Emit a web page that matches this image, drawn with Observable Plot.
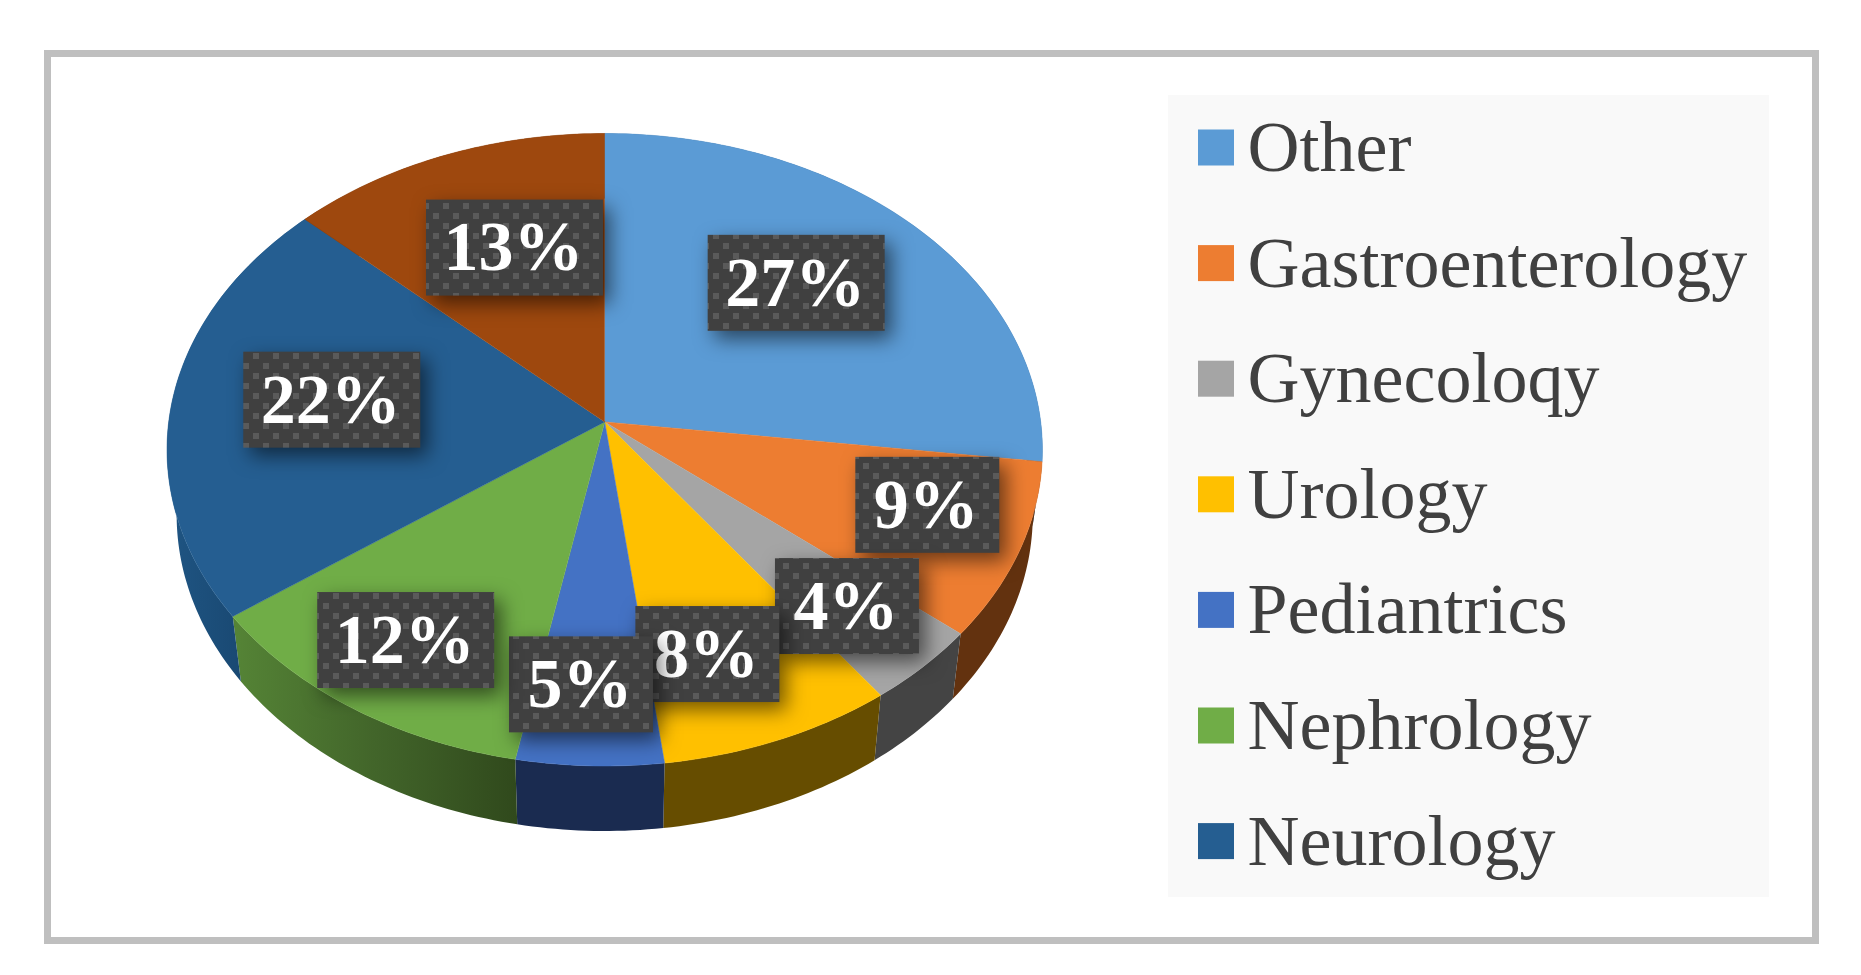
<!DOCTYPE html>
<html>
<head>
<meta charset="utf-8">
<script src="https://cdn.jsdelivr.net/npm/d3@7"></script>
<script src="https://cdn.jsdelivr.net/npm/@observablehq/plot@0.6"></script>
<style>
html,body{margin:0;padding:0;background:#fff;overflow:hidden}
svg{display:block;filter:blur(0.6px)}
</style>
</head>
<body>
<div id="chart"></div>
<script>
// --- data ---
const categories = ["Other","Gastroenterology","Gynecoloqy","Urology","Pediantrics","Nephrology","Neurology","(no legend entry)"];
const values = [27,9,4,8,5,12,22,13];
const legendCount = 7;

// --- styling and layout, kept apart from the data ---
const topColors = ["#5B9BD5","#ED7D31","#A5A5A5","#FFC000","#4472C4","#70AD47","#255E91","#9E480E"];
const wallColors = ["#2f5f8d","#63320f","#444444","#664d00","#1a2b50","url(#nephroWall)","url(#neuroWall)","#5e2b08"];
const labelNudgeX = [-28,36,24,-16,-13,-26,31,25];
const labelNudgeY = [1,-6,17,16,29,23,-8,17];
const serif = "'Liberation Serif','Times New Roman',serif";

// pie geometry: tilted disc in perspective
const cx = 604.2, cy = 421.4, Rx = 436, Ry = 313.8, persp = 0.088, depth = 65, bottomShrink = 0.978;
const project = (theta, f = 1) => {
  const w = 1 + persp * f * Math.cos(theta);
  return [f * Rx * Math.sin(theta) / w, -f * Ry * Math.cos(theta) / w];
};

let cum = 0;
const slices = categories.map((category, i) => {
  const a0 = cum / 100 * 2 * Math.PI;
  cum += values[i];
  const a1 = cum / 100 * 2 * Math.PI;
  return {category, value: values[i], a0, a1, i};
});
const arcAngles = s => {
  const n = Math.max(2, Math.ceil((s.a1 - s.a0) / (Math.PI / 180)));
  return d3.range(n + 1).map(k => s.a0 + (s.a1 - s.a0) * k / n);
};

const facePoints = slices.flatMap(s => [
  {key: s.i, category: s.category, x: cx, y: cy},
  ...arcAngles(s).map(t => {
    const [X, Y] = project(t);
    return {key: s.i, category: s.category, x: cx + X, y: cy + Y};
  })
]);
const wallPoints = slices.flatMap(s => {
  const ang = arcAngles(s);
  const upper = ang.map(t => {
    const [X, Y] = project(t);
    return {key: s.i, wall: wallColors[s.i], x: cx + X, y: cy + Y};
  });
  const lower = ang.slice().reverse().map(t => {
    const [X, Y] = project(t);
    return {key: s.i, wall: wallColors[s.i], x: cx + X * bottomShrink, y: cy + Y + depth};
  });
  return [...upper, ...lower];
});

const labels = slices.map(s => {
  const [X, Y] = project((s.a0 + s.a1) / 2, 0.7);
  const text = s.value + "%";
  const w = s.value >= 10 ? 177 : 144, h = 96;
  const x = cx + X + labelNudgeX[s.i], y = cy + Y + labelNudgeY[s.i];
  return {text, x, y, tx: x - 1.5, x1: x - w / 2, x2: x + w / 2, y1: y - h / 2, y2: y + h / 2};
});

const legendRows = slices.slice(0, legendCount).map((s, i) => {
  const y = 147.5 + i * 115.6;
  return {category: s.category, y, ty: y, y1: y - 18, y2: y + 18, x1: 1198, x2: 1234, tx: 1247};
});

const labelMarks = labels.flatMap(l => [
  Plot.rect([l], {x1: "x1", x2: "x2", y1: "y1", y2: "y2", fill: "url(#dots)",
    imageFilter: "drop-shadow(7px 8px 10px rgba(0,0,0,.55))"}),
  Plot.text([l], {x: "tx", y: "y", text: "text", fill: "#ffffff", fontFamily: serif,
    fontWeight: "bold", fontSize: 70, textAnchor: "middle", lineAnchor: "middle"})
]);

const plot = Plot.plot({
  width: 1861, height: 975, margin: 0,
  x: {domain: [0, 1861], range: [0, 1861], axis: null},
  y: {domain: [0, 975], range: [0, 975], axis: null},
  color: {type: "ordinal", domain: categories, range: topColors},
  marks: [
    Plot.rect([{x1: 47.5, x2: 1815.5, y1: 53.5, y2: 940.5}], {x1: "x1", x2: "x2", y1: "y1", y2: "y2",
      fill: "#ffffff", stroke: "#bfbfbf", strokeWidth: 7}),
    Plot.rect([{x1: 1168, x2: 1769, y1: 95, y2: 897}], {x1: "x1", x2: "x2", y1: "y1", y2: "y2", fill: "#f9f9f9"}),
    Plot.line(wallPoints, {x: "x", y: "y", z: "key", curve: "linear",
      fill: {value: d => d.wall, scale: null}, stroke: "none"}),
    Plot.line(facePoints, {x: "x", y: "y", z: "key", curve: "linear",
      fill: "category", stroke: "category", strokeWidth: 0.5}),
    ...labelMarks,
    Plot.rect(legendRows, {x1: "x1", x2: "x2", y1: "y1", y2: "y2", fill: "category"}),
    Plot.text(legendRows, {x: "tx", y: "ty", text: "category", fill: "#404040", fontFamily: serif,
      fontSize: 72, textAnchor: "start", lineAnchor: "middle"})
  ]
});

plot.style.background = "#fff";
d3.select(plot).insert("defs", ":first-child").html(`
  <pattern id="dots" width="20" height="20" patternUnits="userSpaceOnUse">
    <rect width="20" height="20" fill="#404040"/>
    <rect x="3" y="3" width="6" height="6" fill="#5a5a5a"/>
    <rect x="13" y="13" width="6" height="6" fill="#5a5a5a"/>
  </pattern>
  <linearGradient id="nephroWall" x1="0" x2="1" y1="0" y2="0">
    <stop offset="0" stop-color="#558436"/>
    <stop offset="0.5" stop-color="#42652a"/>
    <stop offset="1" stop-color="#30491c"/>
  </linearGradient>
  <linearGradient id="neuroWall" x1="0" x2="1" y1="0" y2="0">
    <stop offset="0" stop-color="#1f5583"/>
    <stop offset="1" stop-color="#143d63"/>
  </linearGradient>`);
document.getElementById("chart").append(plot);
</script>
</body>
</html>
